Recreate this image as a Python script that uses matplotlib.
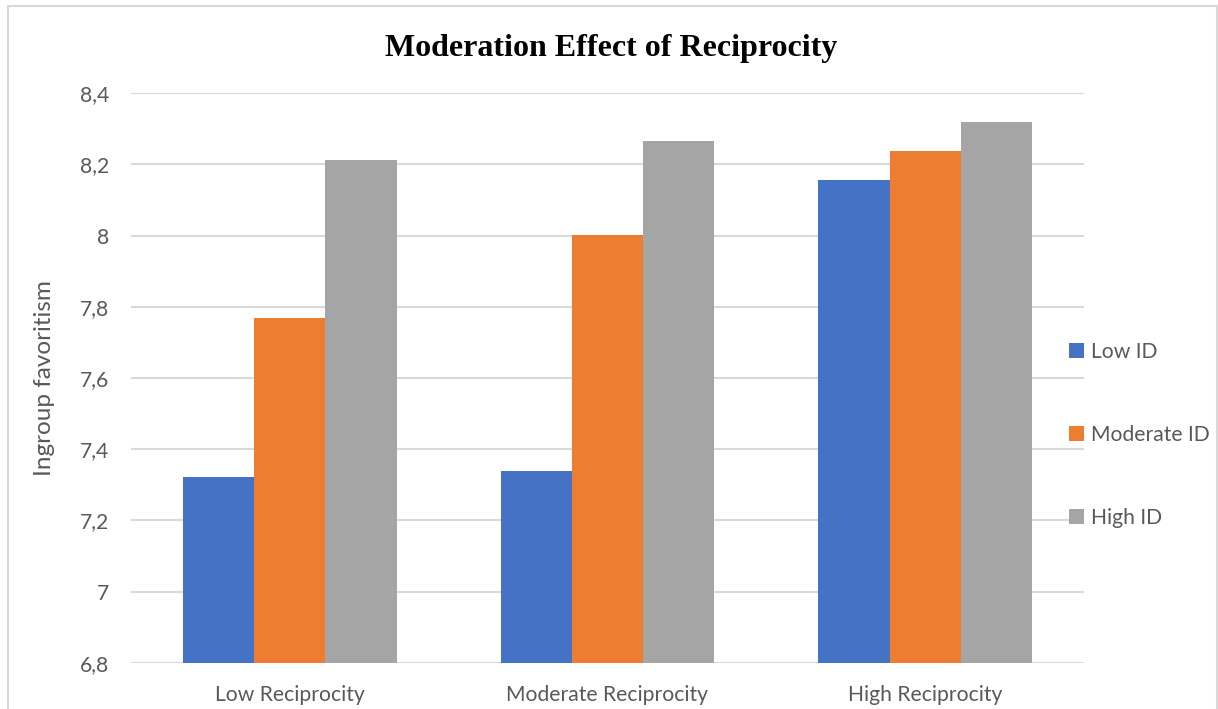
import matplotlib
matplotlib.use("Agg")
import matplotlib.pyplot as plt
from matplotlib.lines import Line2D
from matplotlib.patches import Patch
import numpy as np

categories = ["Low Reciprocity", "Moderate Reciprocity", "High Reciprocity"]
series_names = ["Low ID", "Moderate ID", "High ID"]
low_id = [7.322, 7.339, 8.156]
moderate_id = [7.768, 8.001, 8.237]
high_id = [8.212, 8.265, 8.319]
y_ticks = [6.8, 7.0, 7.2, 7.4, 7.6, 7.8, 8.0, 8.2, 8.4]
y_tick_labels = ["6,8", "7", "7,2", "7,4", "7,6", "7,8", "8", "8,2", "8,4"]

colors = ["#4472C4", "#ED7D31", "#A5A5A5"]
text_color = "#595959"
grid_color = "#D9D9D9"

fig = plt.figure(figsize=(12.18, 7.09), dpi=100)
ax = fig.add_axes([131 / 1218, 0.0649, 953 / 1218, 0.8039])

x = np.arange(len(categories))
bar_w = 0.224
for i, (vals, col, name) in enumerate(zip([low_id, moderate_id, high_id], colors, series_names)):
    ax.bar(x + (i - 1) * bar_w, vals, width=bar_w, color=col, label=name,
           zorder=3, linewidth=0)

ax.set_xlim(-0.5, 2.5)
ax.set_ylim(6.8, 8.4)
ax.set_yticks(y_ticks)
ax.set_yticklabels(y_tick_labels)
ax.set_xticks(x)
ax.set_xticklabels(categories)
ax.tick_params(axis="both", length=0, labelsize=15.2, colors=text_color,
               labelfontfamily="Lato")
ax.tick_params(axis="y", pad=16)
ax.tick_params(axis="x", pad=16)
for lbl in ax.get_xticklabels() + ax.get_yticklabels():
    lbl.set_color(text_color)

ax.grid(axis="y", color=grid_color, linewidth=1.5, zorder=0)
for s in ax.spines.values():
    s.set_visible(False)

ax.set_ylabel("Ingroup favoritism", fontsize=17.5, color=text_color,
              family="Lato", labelpad=18)

handles = [Patch(facecolor=c, edgecolor="none") for c in colors]
leg = ax.legend(handles, series_names, loc="center left",
                bbox_to_anchor=(0.984, 0.40), frameon=False,
                handlelength=0.7, handleheight=0.7, handletextpad=0.35,
                labelspacing=2.98, borderaxespad=0, borderpad=0,
                prop={"family": "Lato", "size": 15.2})
for t in leg.get_texts():
    t.set_color(text_color)

fig.text(0.502, 0.932, "Moderation Effect of Reciprocity", ha="center",
         va="center", fontsize=23, fontweight="bold",
         family="Liberation Serif", color="black")

# light outer frame (top, left, right)
fy = 1 - 6 / 709
fl = 8 / 1218
fr = 1216.5 / 1218
frame_kw = dict(color="#D9D9D9", linewidth=1.5, transform=fig.transFigure)
fig.add_artist(Line2D([fl, fr], [fy, fy], **frame_kw))
fig.add_artist(Line2D([fl, fl], [0, fy], **frame_kw))
fig.add_artist(Line2D([fr, fr], [0, fy], **frame_kw))

fig.savefig("out.png", dpi=100, facecolor="white")
